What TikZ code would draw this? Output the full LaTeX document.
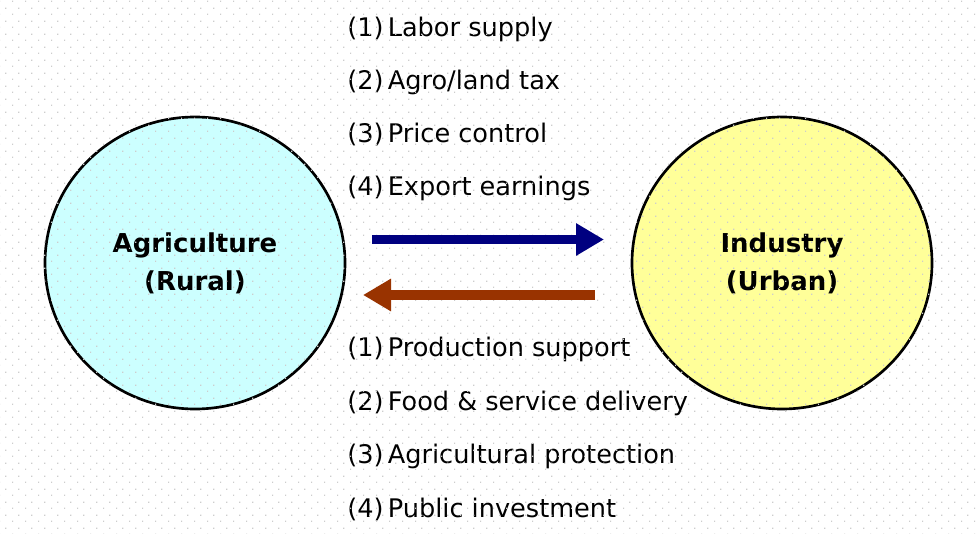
\documentclass[tikz,border=0pt]{standalone}
\usepackage{fontspec}
\setmainfont{DejaVu Sans}
\usetikzlibrary{shapes.geometric,patterns,arrows.meta}
\definecolor{agri}{HTML}{CCFFFF}
\definecolor{indu}{HTML}{FFFF99}
\definecolor{navyarrow}{HTML}{000080}
\definecolor{brownarrow}{HTML}{993300}
\definecolor{dotgray}{HTML}{CDCDCD}
\pgfdeclarepatternformonly{bgdots}{\pgfpointorigin}{\pgfqpoint{9.8pt}{9.9pt}}{\pgfqpoint{9.8pt}{9.9pt}}{%
  \pgfpathrectangle{\pgfqpoint{0pt}{0pt}}{\pgfqpoint{1pt}{1pt}}%
  \pgfpathrectangle{\pgfqpoint{4.9pt}{4.95pt}}{\pgfqpoint{1pt}{1pt}}%
  \pgfusepath{fill}}
\tikzset{
  sector/.style={ellipse, draw=black, line width=2pt, minimum width=225pt, minimum height=219pt,
    align=center, font=\fontsize{19.5pt}{28.5pt}\selectfont\bfseries},
  item/.style={anchor=base west, inner sep=0pt, font=\fontsize{19.2pt}{22pt}\selectfont},
  flow/.style={line width=7pt, -{Triangle[length=21pt,width=23pt]}},
}
\begin{document}
\begin{tikzpicture}[x=0.75pt,y=-0.75pt]
\useasboundingbox (0,0) rectangle (978,534);
\fill[white] (0,0) rectangle (978,534);
\node[sector, fill=agri] (agri) at (195,263) {Agriculture\\(Rural)};
\node[sector, fill=indu] (ind) at (782,263) {Industry\\(Urban)};
\node[item] (t1) at (347,37) {(1)\,Labor supply};
\node[item] (t2) at (347,90) {(2)\,Agro/land tax};
\node[item] (t3) at (347,143) {(3)\,Price control};
\node[item] (t4) at (347,196) {(4)\,Export earnings};
\node[item] (u1) at (347,357) {(1)\,Production support};
\node[item] (u2) at (347,411) {(2)\,Food \& service delivery};
\node[item] (u3) at (347,464) {(3)\,Agricultural protection};
\node[item] (u4) at (347,517) {(4)\,Public investment};
\fill[pattern=bgdots, pattern color=dotgray] (0,0) rectangle (978,534);
\coordinate (a1) at (372,239.5);
\coordinate (a2) at (604,239.5);
\coordinate (b1) at (595,295);
\coordinate (b2) at (363,295);
\draw[flow, navyarrow] (a1) -- (a2);
\draw[flow, brownarrow] (b1) -- (b2);
\end{tikzpicture}
\end{document}
